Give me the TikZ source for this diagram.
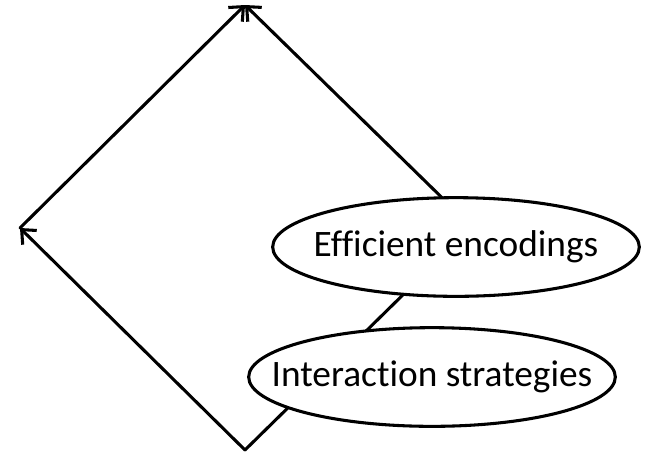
\documentclass[tikz,border=0pt]{standalone}
\usepackage{fontspec}
\setmainfont[Ligatures={NoCommon}]{Carlito}
\usetikzlibrary{arrows.meta,shapes.geometric}
\begin{document}
\begin{tikzpicture}[x=0.75pt,y=-0.75pt,
  conn/.style={line width=2.3pt, line cap=round, line join=miter},
  tipped/.style={conn, -{Straight Barb[length=8.5pt, width=15pt, line width=2.3pt]}},
  oval/.style={ellipse, draw, line width=2.3pt, fill=white, inner xsep=-40pt, inner ysep=0pt,
    minimum width=275pt, minimum height=74pt,
    font=\fontsize{28}{32}\selectfont}]
\useasboundingbox (0,0) rectangle (651,455);
\coordinate (B) at (245,450);
\coordinate (L) at (20,228);
\coordinate (T) at (245,5);
\coordinate (R) at (472,227);
\draw[tipped] (B) -- (L);
\draw[tipped] (L) -- (T);
\draw[tipped] (B) -- (R) -- (T);
\node[oval] (enc) at (456,247) {Efficient encodings};
\node[oval] (int) at (432,377) {Interaction strategies};
\end{tikzpicture}
\end{document}
